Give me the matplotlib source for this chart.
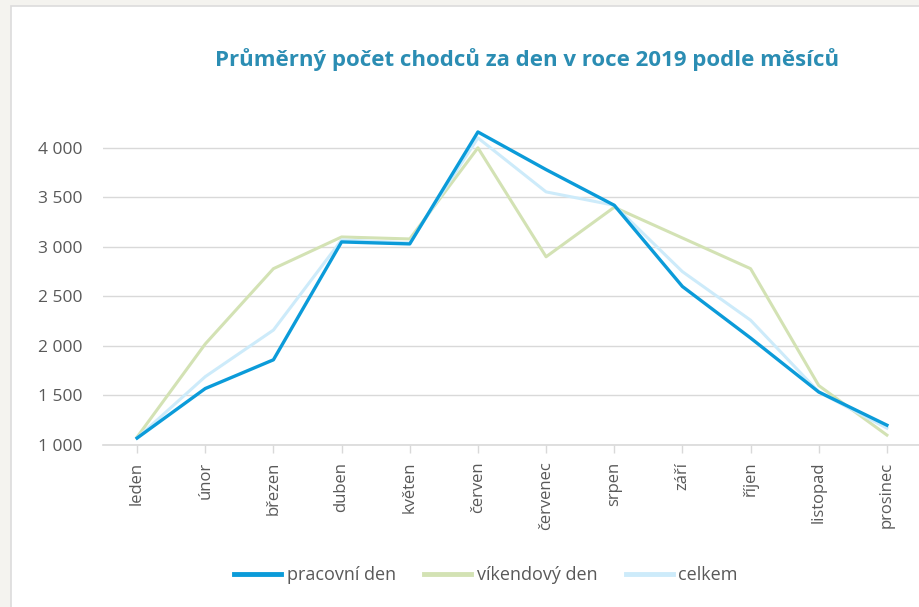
import numpy as np
import matplotlib.pyplot as plt
from matplotlib.patches import Rectangle
from matplotlib.ticker import FuncFormatter

mesice = ["leden", "únor", "březen", "duben", "květen", "červen",
          "červenec", "srpen", "září", "říjen", "listopad", "prosinec"]
pracovni = [1070, 1570, 1860, 3050, 3030, 4160, 3780, 3420, 2600, 2080, 1535, 1200]
vikend = [1080, 2020, 2780, 3100, 3080, 4000, 2900, 3400, 3090, 2780, 1600, 1100]
celkem = [1070, 1690, 2160, 3070, 3040, 4100, 3555, 3420, 2750, 2260, 1535, 1170]

plt.rcParams['font.family'] = ['Open Sans', 'DejaVu Sans']

fig = plt.figure(figsize=(9.19, 6.07), dpi=100)
fig.patch.set_facecolor("#f4f3ef")
fig.patches.append(Rectangle((11 / 919, -0.1), 1.1, 1 - 6 / 607 + 0.1,
                             transform=fig.transFigure, facecolor="white",
                             edgecolor="#dcdcdc", linewidth=1.2, zorder=-5))

ax = fig.add_axes([103 / 919, 1 - 445 / 607, 818 / 919, 317 / 607])
ax.set_facecolor("none")

x = np.arange(len(mesice))
ax.plot(x, celkem, color="#cdebfa", lw=2.2, label="celkem", zorder=3)
ax.plot(x, vikend, color="#d3e2b4", lw=2.2, label="víkendový den", zorder=2)
ax.plot(x, pracovni, color="#0b9bd9", lw=2.4, label="pracovní den", zorder=4)

ax.set_xlim(-0.5, 11.5)
ax.set_ylim(1000, 4200)
ax.set_yticks(range(1000, 4001, 500))
ax.yaxis.set_major_formatter(FuncFormatter(lambda v, p: f"{int(v):,}".replace(",", " ")))
ax.grid(axis="y", color="#d9d9d9", lw=1)
ax.set_axisbelow(True)
for s in ["top", "right", "left"]:
    ax.spines[s].set_visible(False)
ax.spines["bottom"].set_color("#d9d9d9")
ax.spines["bottom"].set_linewidth(1.2)

ax.set_xticks(x)
ax.set_xticklabels(mesice, rotation=90, va="top", ha="center")
ax.tick_params(axis="x", length=6, color="#d9d9d9", width=1, labelsize=12,
               labelcolor="#595959", pad=6)
ax.tick_params(axis="y", length=0, labelsize=12.5, labelcolor="#595959", pad=15)

fig.text(527 / 919, 1 - 60 / 607, "Průměrný počet chodců za den v roce 2019 podle měsíců",
         ha="center", va="center", fontsize=16, fontweight="bold", color="#2b8db3")

h, l = ax.get_legend_handles_labels()
order = [2, 1, 0]
leg = fig.legend([h[i] for i in order], [l[i] for i in order], loc="center",
                 bbox_to_anchor=(486 / 919, 1 - 575 / 607), ncol=3, frameon=False,
                 fontsize=13, handlelength=2.6, columnspacing=1.55, handletextpad=0.33)
for t in leg.get_texts():
    t.set_color("#595959")
for ln in leg.get_lines():
    ln.set_linewidth(3.5)

fig.savefig("out.png", dpi=100, facecolor=fig.get_facecolor())
